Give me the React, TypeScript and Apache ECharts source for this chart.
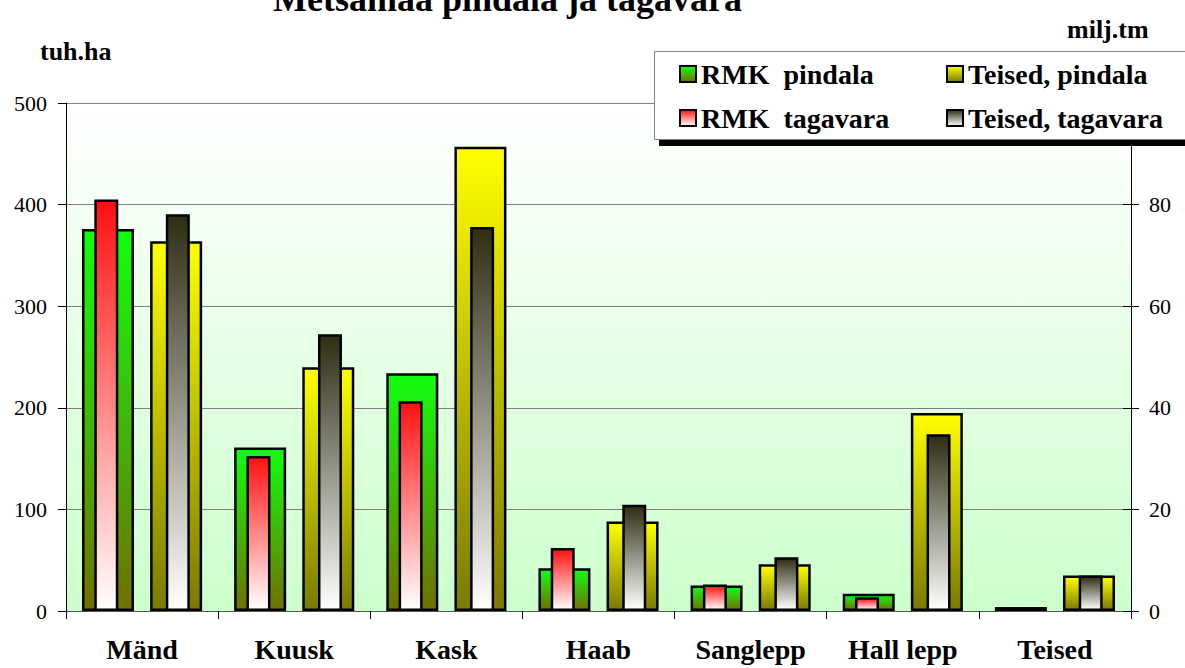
import React, { useEffect, useRef } from "react";
import * as echarts from "echarts";

const categories = ["Mänd", "Kuusk", "Kask", "Haab", "Sanglepp", "Hall lepp", "Teised"];
const rmkPindala = [376, 161, 234, 42, 25, 17, 4];
const teisedPindala = [364, 240, 457, 88, 46, 195, 35];
const rmkTagavara = [81, 30.5, 41.3, 12.4, 5.2, 2.7, 0.6];
const teisedTagavara = [78.1, 54.5, 75.6, 20.9, 10.6, 34.8, 7.0];
const seriesNames = ["RMK  pindala", "Teised, pindala", "RMK  tagavara", "Teised, tagavara"];
const titleText = "Metsamaa pindala ja tagavara";
const leftUnit = "tuh.ha";
const rightUnit = "milj.tm";

const FONT = "Liberation Serif, serif";

const grad = (top: string, bottom: string) =>
  new echarts.graphic.LinearGradient(0, 0, 0, 1, [
    { offset: 0, color: top },
    { offset: 1, color: bottom },
  ]);

export default function App() {
  const ref = useRef<HTMLDivElement>(null);
  useEffect(() => {
    if (!ref.current) return;
    const chart = echarts.init(ref.current, null, { renderer: "svg" });
    const border = { borderColor: "#000", borderWidth: 2.5 };
    const legendText = { fontFamily: FONT, fontSize: 28, fontWeight: "bold" as const, color: "#000" };
    const legendBase = {
      orient: "vertical" as const,
      icon: "rect",
      itemWidth: 16,
      itemHeight: 16,
      itemGap: 16,
      padding: 0,
      top: 60,
      z: 20,
      textStyle: legendText,
    };
    chart.setOption({
      animation: false,
      backgroundColor: "#fff",
      textStyle: { fontFamily: FONT },
      title: {
        text: titleText,
        left: 268,
        top: -24,
        textStyle: { fontFamily: FONT, fontSize: 36, fontWeight: "bold", color: "#000" },
      },
      graphic: [
        { type: "rect", shape: { x: 659, y: 57, width: 560, height: 89 }, style: { fill: "#000" }, z: 10 },
        {
          type: "rect",
          shape: { x: 654.5, y: 51.5, width: 560, height: 88 },
          style: { fill: "#fff", stroke: "#808080", lineWidth: 1 },
          z: 11,
        },
        {
          type: "text",
          left: 40,
          top: 38,
          style: { text: leftUnit, fontFamily: FONT, fontSize: 26, fontWeight: "bold", fill: "#000" },
          z: 12,
        },
        {
          type: "text",
          left: 1067,
          top: 16,
          style: { text: rightUnit, fontFamily: FONT, fontSize: 26, fontWeight: "bold", fill: "#000" },
          z: 12,
        },
      ],
      legend: [
        { ...legendBase, data: [seriesNames[0], seriesNames[2]], left: 679 },
        { ...legendBase, data: [seriesNames[1], seriesNames[3]], left: 946 },
      ],
      grid: {
        left: 66,
        right: 54,
        top: 103,
        bottom: 57,
        show: true,
        borderWidth: 0,
        backgroundColor: grad("#ffffff", "#ccffcc"),
      },
      xAxis: [
        {
          type: "category",
          data: categories,
          position: "bottom",
          axisLine: { show: true, lineStyle: { color: "#555", width: 1 } },
          axisTick: { show: true, length: 8, lineStyle: { color: "#000" } },
          axisLabel: {
            margin: 24,
            fontFamily: FONT,
            fontSize: 28,
            fontWeight: "bold",
            color: "#000",
          },
        },
        {
          type: "category",
          data: categories,
          position: "bottom",
          show: false,
        },
      ],
      yAxis: [
        {
          type: "value",
          min: 0,
          max: 500,
          interval: 100,
          position: "left",
          axisLine: { show: true, lineStyle: { color: "#000", width: 1 } },
          axisTick: { show: true, length: 8, lineStyle: { color: "#000" } },
          axisLabel: { margin: 19, fontFamily: FONT, fontSize: 22, color: "#000" },
          splitLine: { show: true, lineStyle: { color: "#808080", width: 1 } },
        },
        {
          type: "value",
          min: 0,
          max: 100,
          interval: 20,
          position: "right",
          axisLine: { show: true, lineStyle: { color: "#000", width: 1 } },
          axisTick: { show: true, length: 8, lineStyle: { color: "#000" } },
          axisLabel: { margin: 18, fontFamily: FONT, fontSize: 22, color: "#000", showMaxLabel: false },
          splitLine: { show: false },
        },
        {
          type: "value",
          min: 0,
          max: 100,
          interval: 20,
          position: "right",
          axisLine: { show: false },
          axisTick: { show: true, inside: true, length: 8, lineStyle: { color: "#000" } },
          axisLabel: { show: false },
          splitLine: { show: false },
        },
      ],
      series: [
        {
          name: seriesNames[0],
          type: "bar",
          xAxisIndex: 0,
          yAxisIndex: 0,
          barWidth: 52,
          barGap: "31%",
          z: 2,
          itemStyle: { color: grad("#10ff10", "#707000"), ...border },
          data: rmkPindala,
        },
        {
          name: seriesNames[1],
          type: "bar",
          xAxisIndex: 0,
          yAxisIndex: 0,
          barWidth: 52,
          barGap: "31%",
          z: 2,
          itemStyle: { color: grad("#ffff00", "#7a7a00"), ...border },
          data: teisedPindala,
        },
        {
          name: seriesNames[2],
          type: "bar",
          xAxisIndex: 1,
          yAxisIndex: 1,
          barWidth: 24,
          barGap: "198%",
          z: 3,
          itemStyle: { color: grad("#ff1010", "#ffffff"), ...border },
          data: rmkTagavara,
        },
        {
          name: seriesNames[3],
          type: "bar",
          xAxisIndex: 1,
          yAxisIndex: 1,
          barWidth: 24,
          barGap: "198%",
          z: 3,
          itemStyle: { color: grad("#2e2e14", "#ffffff"), ...border },
          data: teisedTagavara,
        },
      ],
    });
    return () => chart.dispose();
  }, []);
  return <div ref={ref} style={{ width: 1185, height: 668, position: "absolute", left: 0, top: 0 }} />;
}
